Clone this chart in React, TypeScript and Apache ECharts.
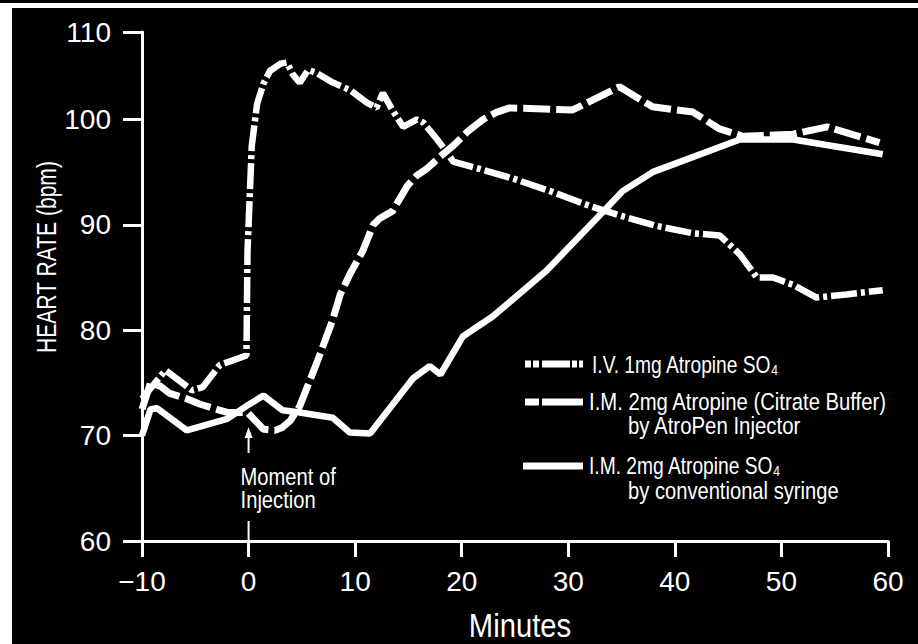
import React, { useEffect, useRef } from "react";
import * as echarts from "echarts";

// ---- data (minutes, bpm) ----
const ivTimes = [-10, -7.8, -5.3, -4.3, -2.7, -0.2, -0.1, 0.3, 0.8, 1.4, 2.0, 3.0, 3.6, 4.2, 4.8, 5.6, 6.4, 7.9, 9.5, 11.1, 12.0, 12.6, 13.5, 14.5, 15.8, 16.4, 17.7, 18.6, 19.2, 21.7, 24.8, 28.3, 32.0, 34.8, 38.3, 41.7, 44.2, 46.1, 47.7, 49.2, 51.1, 53.3, 56.1, 59.5];
const ivRates = [73.5, 76.2, 74.3, 74.6, 76.7, 77.6, 87.5, 97.5, 101.5, 103.4, 104.6, 105.3, 105.4, 104.2, 103.5, 104.7, 104.4, 103.5, 102.8, 101.6, 101.1, 102.5, 100.9, 99.3, 100.0, 99.7, 98.1, 96.9, 96.0, 95.3, 94.4, 93.2, 91.8, 90.9, 89.9, 89.2, 89.0, 87.2, 85.0, 85.0, 84.3, 83.1, 83.4, 83.8];

const penTimes = [-10, -9.2, -8.3, -7.4, -5.8, -4.6, -3.0, -2.0, -0.1, 1.4, 2.5, 3.2, 3.9, 4.8, 6.4, 7.9, 8.6, 9.5, 10.7, 11.7, 12.3, 13.5, 14.9, 15.8, 16.7, 18.0, 19.2, 20.5, 22.0, 23.3, 24.5, 30.4, 34.8, 37.9, 41.7, 44.2, 46.4, 51.1, 54.3, 59.2];
const penRates = [72.5, 75.0, 74.7, 74.0, 73.5, 73.0, 72.5, 72.2, 72.2, 70.6, 70.5, 70.8, 71.4, 72.8, 76.9, 81.0, 83.4, 85.3, 87.5, 90.0, 90.6, 91.3, 93.7, 94.7, 95.3, 96.5, 97.5, 98.8, 100.0, 100.7, 101.1, 100.9, 103.1, 101.2, 100.7, 99.1, 98.4, 98.6, 99.3, 97.8];

const syrTimes = [-10, -9.2, -8.6, -5.8, -2.0, -0.2, 1.4, 3.2, 4.8, 7.9, 9.5, 11.4, 15.4, 17.0, 18.0, 20.1, 22.9, 28.0, 33.6, 35.1, 37.9, 46.1, 51.1, 59.5];
const syrRates = [70.0, 72.5, 72.6, 70.5, 71.6, 72.8, 73.8, 72.4, 72.2, 71.7, 70.3, 70.2, 75.4, 76.6, 75.8, 79.4, 81.3, 85.7, 91.6, 93.2, 95.0, 98.1, 98.1, 96.7];

const seriesNames = ["I.V. 1mg Atropine SO\u2084", "I.M. 2mg Atropine (Citrate Buffer)", "I.M. 2mg Atropine SO\u2084"];
const seriesSubNames = ["", "by AtroPen Injector", "by conventional syringe"];

const xMin = -10;
const xMax = 60;
const xStep = 10;
const yMin = 60;
const yAxisTop = 108.3; // the drawn top tick of the reference
const yTopLabel = "110";
const yStep = 10;

const FONT = "'Liberation Sans', Arial, sans-serif";

const zip = (t: number[], v: number[]) => t.map((x, i) => [x, v[i]]);

export default function App() {
  const ref = useRef<HTMLDivElement>(null);
  useEffect(() => {
    const el = ref.current!;
    const chart = echarts.init(el, undefined, { renderer: "svg" });
    const white = "#ffffff";
    chart.setOption({
      animation: false,
      backgroundColor: "transparent",
      grid: { left: 142, right: 30, top: 32, bottom: 103 },
      xAxis: {
        type: "value",
        min: xMin,
        max: xMax,
        interval: xStep,
        axisLine: { show: true, onZero: false, lineStyle: { color: white, width: 3 } },
        axisTick: { show: true, length: 16, lineStyle: { color: white, width: 3 } },
        axisLabel: {
          color: white,
          fontSize: 28,
          fontFamily: FONT,
          margin: 26,
          formatter: (v: number) => (v < 0 ? "\u2212" + Math.abs(v) : String(v)),
        },
        splitLine: { show: false },
      },
      yAxis: {
        type: "value",
        min: yMin,
        max: yAxisTop,
        interval: yStep,
        axisLine: { show: true, onZero: false, lineStyle: { color: white, width: 3 } },
        axisTick: { show: true, length: 19, lineStyle: { color: white, width: 3 } },
        axisLabel: {
          color: white,
          fontSize: 28,
          fontFamily: FONT,
          margin: 31,
          showMaxLabel: true,
          showMinLabel: true,
          formatter: (v: number) => (v > yAxisTop - 0.01 ? yTopLabel : String(v)),
        },
        splitLine: { show: false },
      },
      series: [
        {
          name: seriesNames[0],
          type: "line",
          data: zip(ivTimes, ivRates),
          showSymbol: false,
          lineStyle: { color: white, width: 6.5, type: [26, 4, 4, 4], cap: "butt" },
          z: 3,
        },
        {
          name: seriesNames[1],
          type: "line",
          data: zip(penTimes, penRates),
          showSymbol: false,
          lineStyle: { color: white, width: 7, type: [27, 6], cap: "butt" },
          z: 3,
        },
        {
          name: seriesNames[2],
          type: "line",
          data: zip(syrTimes, syrRates),
          showSymbol: false,
          lineStyle: { color: white, width: 6.5, type: "solid" },
          z: 3,
        },
      ],
    });

    const x0 = chart.convertToPixel({ xAxisIndex: 0 } as any, 0) as number;
    const yBase = chart.convertToPixel({ yAxisIndex: 0 } as any, yMin) as number;

    const txt = (text: string, x: number, y: number, size: number, sx: number, extra: any = {}) => ({
      type: "text",
      x,
      y,
      scaleX: sx,
      style: {
        text,
        fill: white,
        fontSize: size,
        fontFamily: FONT,
        align: "left",
        verticalAlign: "middle",
        ...extra,
      },
      z: 10,
    });

    chart.setOption({
      graphic: [
        // y axis title
        {
          type: "text",
          x: 47,
          y: 257,
          rotation: Math.PI / 2,
          scaleX: 0.78,
          style: {
            text: "HEART RATE (bpm)",
            fill: white,
            fontSize: 27,
            fontFamily: FONT,
            align: "center",
            verticalAlign: "middle",
          },
        },
        txt("Minutes", 520, 625, 34, 0.86, { align: "center" }),
        // moment of injection annotation
        { type: "line", shape: { x1: x0, y1: yBase - 88, x2: x0, y2: yBase - 106 }, style: { stroke: white, lineWidth: 2 } },
        { type: "polygon", shape: { points: [[x0, yBase - 114], [x0 - 4, yBase - 103], [x0 + 4, yBase - 103]] }, style: { fill: white } },
        { type: "line", shape: { x1: x0, y1: yBase - 20, x2: x0, y2: yBase }, style: { stroke: white, lineWidth: 2 } },
        txt("Moment of", x0 - 8, yBase - 64, 24, 0.84),
        txt("Injection", x0 - 8, yBase - 41, 24, 0.84),
        // legend
        { type: "line", shape: { x1: 525, y1: 364, x2: 583, y2: 364 }, style: { stroke: white, lineWidth: 7, lineDash: [6, 2, 6, 3, 28, 2, 5, 2, 5, 20] } },
        txt(seriesNames[0], 592, 365, 24, 0.8),
        { type: "line", shape: { x1: 525, y1: 402, x2: 583, y2: 402 }, style: { stroke: white, lineWidth: 7, lineDash: [14, 3, 42, 20] } },
        txt(seriesNames[1], 589, 402, 24, 0.845),
        txt(seriesSubNames[1], 628, 426, 24, 0.85),
        { type: "line", shape: { x1: 523, y1: 466, x2: 583, y2: 466 }, style: { stroke: white, lineWidth: 7 } },
        txt(seriesNames[2], 589, 466, 24, 0.8),
        txt(seriesSubNames[2], 628, 491, 24, 0.84),
      ],
    });

    return () => chart.dispose();
  }, []);

  return (
    <div style={{ position: "fixed", left: 0, top: 0, width: 918, height: 644, background: "#ffffff", overflow: "hidden" }}>
      <div style={{ position: "absolute", left: 0, top: 0, width: 918, height: 2.5, background: "#000" }} />
      <div style={{ position: "absolute", left: 11.5, top: 8.3, width: 906.5, height: 635.7, background: "#000" }} />
      <div ref={ref} style={{ position: "absolute", left: 0, top: 0, width: 918, height: 644 }} />
    </div>
  );
}
